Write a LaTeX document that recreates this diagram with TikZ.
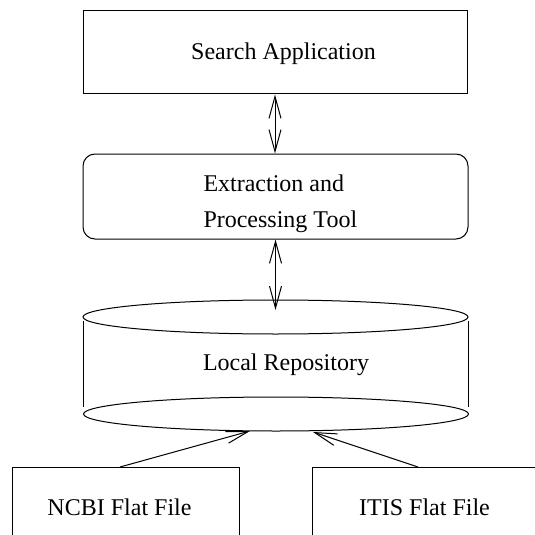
\documentclass[tikz,border=0pt]{standalone}
\usepackage{fontspec}
\setmainfont{Liberation Serif}
\usetikzlibrary{arrows.meta,shapes.geometric}
\begin{document}
\begin{tikzpicture}[x=0.5pt,y=-0.5pt,line width=0.5pt,
  box/.style={draw,rectangle,inner sep=0pt},
  lbl/.style={font=\fontsize{12}{18}\selectfont,inner sep=0pt,anchor=base},
  disc/.style={draw,ellipse,inner sep=0pt,minimum width=192.5pt,minimum height=17pt},
  link/.style={{Straight Barb[length=11pt,width=6pt]}-{Straight Barb[length=11pt,width=6pt]}},
  feed/.style={-{Straight Barb[length=11pt,width=6pt]}}]
\useasboundingbox (0,0) rectangle (535,535);
\clip (0,0) rectangle (535,535);
% Search application
\node[box,minimum width=192pt,minimum height=41.5pt] (search) at (275,52.5) {};
\node[lbl] (searcht) at (283.5,60) {Search Application};
% Extraction tool
\node[box,rounded corners=6pt,minimum width=192.5pt,minimum height=42.5pt] (extract) at (275.5,196.5) {};
\node[lbl,anchor=base west] (extractt1) at (203,191) {Extraction and};
\node[lbl,anchor=base west] (extractt2) at (203,227) {Processing Tool};
% Repository cylinder
\node[disc] (rtop) at (275.5,317) {};
\node[disc] (rbot) at (276,414) {};
\draw (83,321) -- (83,407);
\draw (468,321) -- (468,407);
\node[lbl] (repot) at (286,370) {Local Repository};
% Flat files
\node[box,minimum width=113.5pt,minimum height=50pt] (ncbi) at (125.5,517) {};
\node[lbl] (ncbit) at (119.5,515) {NCBI Flat File};
\node[box,minimum width=113.5pt,minimum height=50pt] (itis) at (425.5,517) {};
\node[lbl] (itist) at (424.5,515) {ITIS Flat File};
% connectors
\coordinate (repoin) at (275.5,310);
\coordinate (ncbiout) at (120,467);
\coordinate (repoin1) at (250,431);
\coordinate (itisout) at (418,467);
\coordinate (repoin2) at (313,432);
\draw[link] (search.south) -- (search.south |- extract.north);
\draw[link] (extract.south) -- (repoin);
\draw[feed] (ncbiout) -- (repoin1);
\draw[feed] (itisout) -- (repoin2);
\end{tikzpicture}
\end{document}
